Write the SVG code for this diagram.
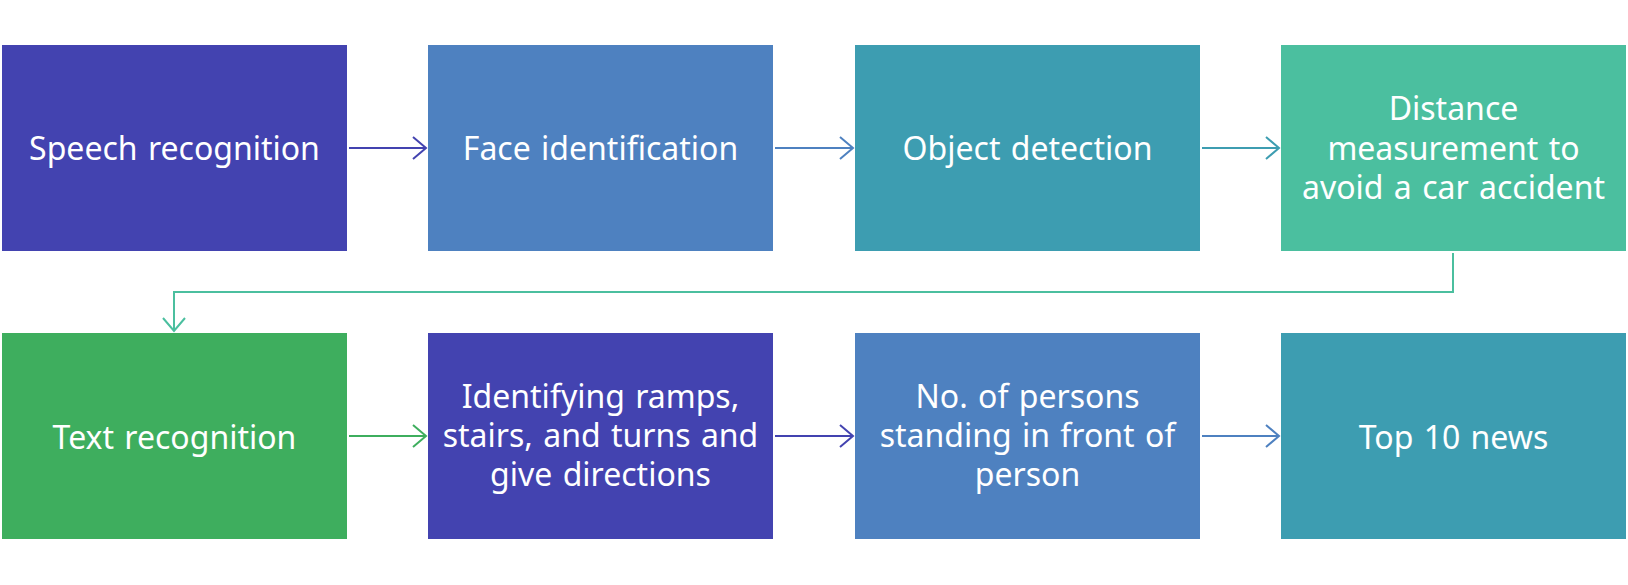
<svg xmlns="http://www.w3.org/2000/svg" width="1628" height="585" viewBox="0 0 1628 585">
<style>
text{font-family:"Noto Sans","Open Sans",sans-serif;font-size:32px;letter-spacing:0px;word-spacing:2px;fill:#ffffff;text-anchor:middle}
.c{fill:none;stroke-width:2}
</style>
<rect width="1628" height="585" fill="#ffffff"/>
<g id="n1"><rect x="2" y="45" width="345" height="206" fill="#4343B0"/><text x="174.5" y="160">Speech recognition</text></g>
<g id="n2"><rect x="428" y="45" width="345" height="206" fill="#4E81C0"/><text x="600.5" y="160">Face identification</text></g>
<g id="n3"><rect x="855" y="45" width="345" height="206" fill="#3D9DB1"/><text x="1027.5" y="160">Object detection</text></g>
<g id="n4"><rect x="1281" y="45" width="345" height="206" fill="#4BBF9F"/><text x="1453.5" y="120">Distance</text><text x="1453.5" y="160">measurement to</text><text x="1453.5" y="199">avoid a car accident</text></g>
<g id="n5"><rect x="2" y="333" width="345" height="206" fill="#3EAE5E"/><text x="174.5" y="449">Text recognition</text></g>
<g id="n6"><rect x="428" y="333" width="345" height="206" fill="#4343B0"/><text x="600.5" y="408">Identifying ramps,</text><text x="600.5" y="447">stairs, and turns and</text><text x="600.5" y="486">give directions</text></g>
<g id="n7"><rect x="855" y="333" width="345" height="206" fill="#4E81C0"/><text x="1027.5" y="408">No. of persons</text><text x="1027.5" y="447">standing in front of</text><text x="1027.5" y="486">person</text></g>
<g id="n8"><rect x="1281" y="333" width="345" height="206" fill="#3D9DB1"/><text x="1453.5" y="449">Top 10 news</text></g>
<g id="connectors">
<path class="c" stroke="#4343B0" d="M349 148H426M413 137L426 148L413 159"/>
<path class="c" stroke="#4E81C0" d="M775 148H853M840 137L853 148L840 159"/>
<path class="c" stroke="#3D9DB1" d="M1202 148H1279M1266 137L1279 148L1266 159"/>
<path class="c" stroke="#4BBF9F" d="M1453 253V292H174V331M163 318L174 331L185 318"/>
<path class="c" stroke="#3EAE5E" d="M349 436H426M413 425L426 436L413 447"/>
<path class="c" stroke="#4343B0" d="M775 436H853M840 425L853 436L840 447"/>
<path class="c" stroke="#4E81C0" d="M1202 436H1279M1266 425L1279 436L1266 447"/>
</g>
</svg>
